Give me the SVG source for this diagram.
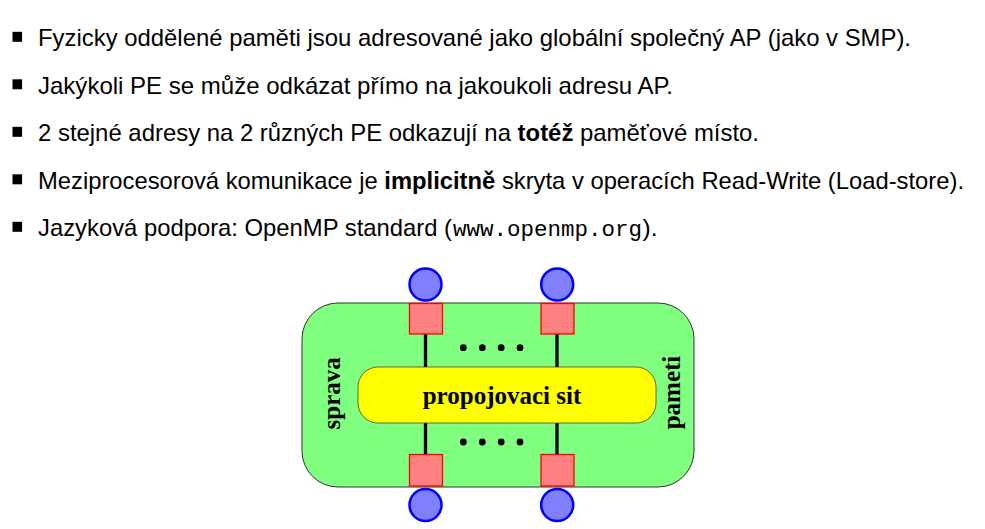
<svg xmlns="http://www.w3.org/2000/svg" width="985" height="529" viewBox="0 0 985 529">
<style>
.t{font-family:"Liberation Sans","DejaVu Sans",sans-serif;font-size:24px;fill:#000}
.b{font-weight:bold}
.m{font-family:"Liberation Mono","DejaVu Sans Mono",monospace;font-size:22px;fill:#000}
.bul{fill:#000}
.lbl{font-family:"Liberation Serif","Times New Roman",serif;font-weight:bold;font-size:25px;fill:#000}
.pe{fill:#8080ff;stroke:#0000ff;stroke-width:2.5}
.if{fill:#ff8080;stroke:#ff0000;stroke-width:1.3}
.con{stroke:#000;stroke-width:3.3;fill:none}
.dot{fill:#000}
</style>
<rect width="985" height="529" fill="#fff"/>
<g id="bullets">
<rect class="bul" x="12.5" y="31.8" width="9.6" height="10"/>
<rect class="bul" x="12.5" y="79.3" width="9.6" height="10"/>
<rect class="bul" x="12.5" y="126.8" width="9.6" height="10"/>
<rect class="bul" x="12.5" y="174.3" width="9.6" height="10"/>
<rect class="bul" x="12.5" y="221.8" width="9.6" height="10"/>
<text class="t" x="38" y="46" textLength="873" lengthAdjust="spacingAndGlyphs">Fyzicky oddělené paměti jsou adresované jako globální společný AP (jako v SMP).</text>
<text class="t" x="38" y="93.5" textLength="635" lengthAdjust="spacingAndGlyphs">Jakýkoli PE se může odkázat přímo na jakoukoli adresu AP.</text>
<text class="t" x="38" y="141" textLength="721" lengthAdjust="spacingAndGlyphs">2 stejné adresy na 2 různých PE odkazují na <tspan class="b">totéž</tspan> paměťové místo.</text>
<text class="t" x="38" y="188.5" textLength="926" lengthAdjust="spacingAndGlyphs">Meziprocesorová komunikace je <tspan class="b">implicitně</tspan> skryta v operacích Read-Write (Load-store).</text>
<text class="t" x="38" y="236" textLength="414" lengthAdjust="spacingAndGlyphs">Jazyková podpora: OpenMP standard (</text>
<text class="m" x="453" y="236" textLength="189" lengthAdjust="spacingAndGlyphs">www.openmp.org</text>
<text class="t" x="642.5" y="236" textLength="15" lengthAdjust="spacingAndGlyphs">).</text>
</g>
<g id="memory">
<rect x="302" y="303" width="392" height="184" rx="36" ry="36" fill="#80ff80" stroke="#333" stroke-width="1"/>
<text class="lbl" x="340" y="393.3" text-anchor="middle" transform="rotate(-90 340 393.3)">sprava</text>
<text class="lbl" x="680" y="392.5" text-anchor="middle" transform="rotate(-90 680 392.5)">pameti</text>
</g>
<g id="connectors">
<line class="con" x1="425.5" y1="334" x2="425.5" y2="367"/>
<line class="con" x1="557" y1="334" x2="557" y2="367"/>
<line class="con" x1="425.5" y1="423" x2="425.5" y2="455"/>
<line class="con" x1="557" y1="423" x2="557" y2="455"/>
<circle class="dot" cx="463.3" cy="347.7" r="3.4"/>
<circle class="dot" cx="482.3" cy="347.7" r="3.4"/>
<circle class="dot" cx="501.2" cy="347.7" r="3.4"/>
<circle class="dot" cx="520" cy="347.7" r="3.4"/>
<circle class="dot" cx="463.3" cy="442" r="3.4"/>
<circle class="dot" cx="482.3" cy="442" r="3.4"/>
<circle class="dot" cx="501.2" cy="442" r="3.4"/>
<circle class="dot" cx="520" cy="442" r="3.4"/>
</g>
<g id="network">
<rect x="358" y="367" width="298" height="56" rx="20" ry="20" fill="#ffff00" stroke="#444" stroke-width="0.8"/>
<text class="lbl" x="502" y="404" text-anchor="middle">propojovaci sit</text>
</g>
<g id="if-top-left"><rect class="if" x="409.5" y="303.5" width="33" height="30.5"/></g>
<g id="if-top-right"><rect class="if" x="541" y="303.5" width="33" height="30.5"/></g>
<g id="if-bottom-left"><rect class="if" x="409.5" y="454.5" width="33" height="31.5"/></g>
<g id="if-bottom-right"><rect class="if" x="541" y="454.5" width="33" height="31.5"/></g>
<g id="pe-top-left"><circle class="pe" cx="425.5" cy="284.5" r="16"/></g>
<g id="pe-top-right"><circle class="pe" cx="557.2" cy="284.5" r="16"/></g>
<g id="pe-bottom-left"><circle class="pe" cx="425.5" cy="505" r="16"/></g>
<g id="pe-bottom-right"><circle class="pe" cx="557.2" cy="505" r="16"/></g>
</svg>
